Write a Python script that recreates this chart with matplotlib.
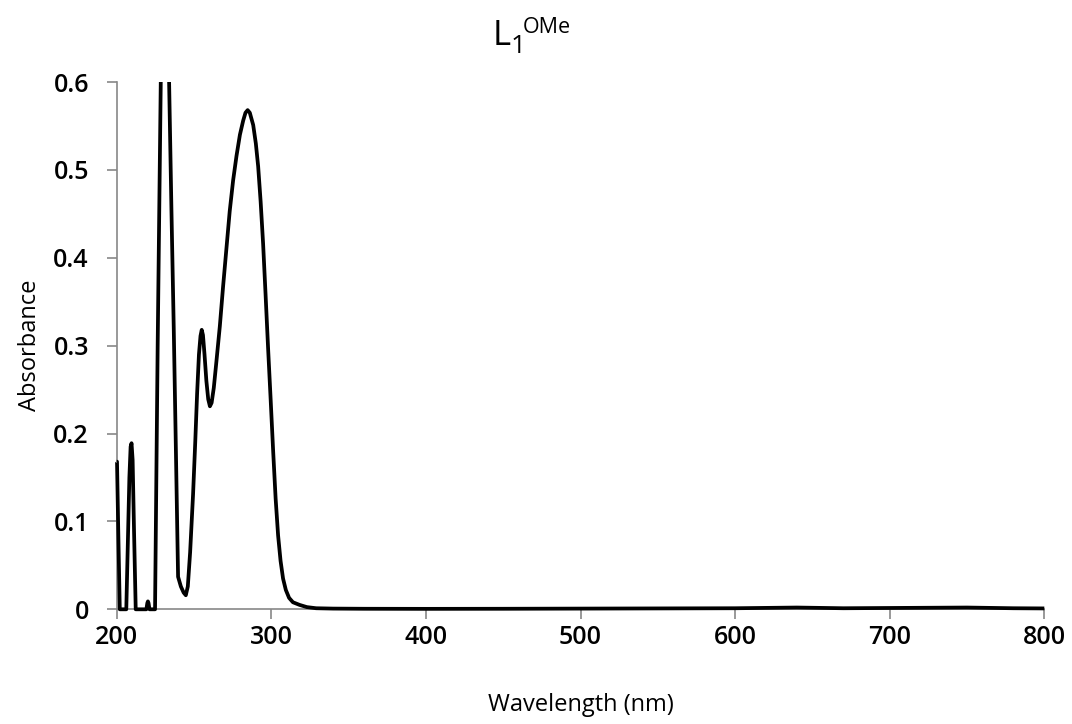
import numpy as np
import matplotlib.pyplot as plt

plt.rcParams['font.family'] = ['Open Sans', 'DejaVu Sans']

# UV-vis spectrum (nm, absorbance)
wavelength = [200.0, 200.2, 201.0, 202.0, 206.2, 207.2, 208.2, 209.0, 209.6, 210.3, 211.2, 212.3,
              219.2, 219.8, 220.2, 220.6, 221.2, 224.8, 226.5, 228.5, 231.0, 233.9,
              235.4, 236.9, 238.3, 239.7, 241.5, 243.3, 244.7, 246.0, 247.5, 249.4,
              250.8, 252.0, 253.2, 254.2, 255.0, 255.8, 256.8, 258.0, 259.2, 260.3, 261.4,
              262.8, 264.5, 266.7, 268.8, 271.0, 273.1, 275.3, 277.5, 279.7, 281.8,
              283.3, 284.7, 286.1, 288.3, 290.0, 291.5, 293.1, 294.7, 296.3, 297.9,
              299.6, 301.2, 302.8, 304.4, 306.0, 307.6, 309.4, 311.5, 314.0, 318.3,
              323.0, 329.0, 340.0, 360.0, 400.0, 450.0, 500.0, 550.0, 600.0, 640.0,
              670.0, 700.0, 750.0, 780.0, 800.0]
absorbance = [0.168, 0.168, 0.090, 0.0, 0.0, 0.075, 0.150, 0.185, 0.189, 0.170, 0.090, 0.0,
              0.0, 0.007, 0.009, 0.007, 0.0, 0.0, 0.300, 0.600, 1.000, 0.600,
              0.455, 0.320, 0.180, 0.037, 0.026, 0.019, 0.016, 0.026, 0.065, 0.131,
              0.190, 0.245, 0.290, 0.311, 0.318, 0.312, 0.290, 0.260, 0.239, 0.231, 0.235,
              0.252, 0.282, 0.322, 0.367, 0.411, 0.453, 0.488, 0.516, 0.540, 0.556,
              0.565, 0.568, 0.565, 0.551, 0.530, 0.504, 0.464, 0.416, 0.358, 0.298,
              0.238, 0.180, 0.126, 0.084, 0.055, 0.035, 0.022, 0.013, 0.008, 0.005,
              0.0025, 0.0012, 0.0008, 0.0006, 0.0005, 0.0006, 0.0008, 0.0010, 0.0012, 0.0020,
              0.0012, 0.0015, 0.0020, 0.0012, 0.0010]

x_ticks = [200, 300, 400, 500, 600, 700, 800]
y_ticks = [0, 0.1, 0.2, 0.3, 0.4, 0.5, 0.6]
y_tick_labels = ['0', '0.1', '0.2', '0.3', '0.4', '0.5', '0.6']

W, H = 1072, 724
fig = plt.figure(figsize=(W / 100, H / 100), dpi=100)
ax = fig.add_axes([116.7 / W, 1 - 609.3 / H, 927.6 / W, 527.3 / H])

line, = ax.plot(wavelength, absorbance, color='black', linewidth=2.7,
                solid_joinstyle='round', solid_capstyle='butt', zorder=3)
# clip only at the top so the edge spike at 200 nm keeps its full width
clip_rect = plt.Rectangle((-0.01, -0.01), 1.02, 1.01, transform=ax.transAxes)
line.set_clip_path(clip_rect)

ax.set_xlim(200, 800)
ax.set_ylim(0, 0.6)
ax.set_xticks(x_ticks)
ax.set_yticks(y_ticks)
ax.set_yticklabels(y_tick_labels)

for side in ['top', 'right']:
    ax.spines[side].set_visible(False)
for side in ['left', 'bottom']:
    ax.spines[side].set_color('#888888')
    ax.spines[side].set_linewidth(1.2)

ax.tick_params(axis='both', direction='out', length=7, width=1.2, color='#888888',
               labelsize=18)
ax.tick_params(axis='y', pad=13)
ax.tick_params(axis='x', pad=4)
for lbl in ax.get_xticklabels() + ax.get_yticklabels():
    lbl.set_fontweight('semibold')

ax.set_xlabel('Wavelength (nm)', fontsize=17)
ax.set_ylabel('Absorbance', fontsize=17)
ax.xaxis.set_label_coords(0.5, -0.158)
ax.yaxis.set_label_coords(-0.08, 0.5)

# title L1^OMe built from pieces
fig.text(493 / W, 1 - 45 / H, 'L', fontsize=25, ha='left', va='baseline')
fig.text(511 / W, 1 - 53 / H, '1', fontsize=19, ha='left', va='baseline')
fig.text(523 / W, 1 - 33 / H, 'OMe', fontsize=15.5, ha='left', va='baseline')

plt.savefig('out.png', dpi=100)
